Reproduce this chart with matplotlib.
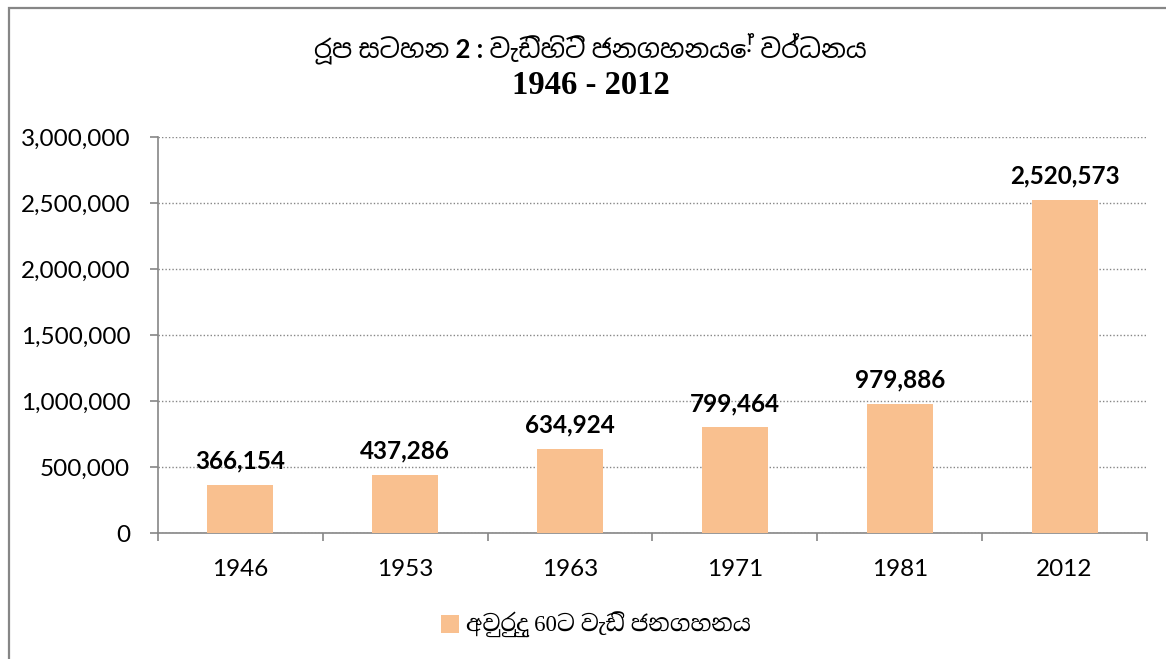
import matplotlib.pyplot as plt
from matplotlib.patches import Rectangle
from matplotlib.ticker import FuncFormatter, FixedLocator

years = ["1946", "1953", "1963", "1971", "1981", "2012"]
population = [366154, 437286, 634924, 799464, 979886, 2520573]

title_line1 = "රූප සටහන 2 : වැඩිහිටි ජනගහනයේ වර්ධනය"
title_line2 = "1946 - 2012"
legend_label = "අවුරුදු 60ට වැඩි ජනගහනය"

bar_color = "#F9C08F"
axis_gray = "#868686"

sans = ["Lato", "Noto Sans Sinhala", "DejaVu Sans"]
serif = ["Liberation Serif", "Noto Serif Sinhala", "DejaVu Serif"]
plt.rcParams["font.family"] = sans

W, H = 1166, 659
fig = plt.figure(figsize=(W / 100, H / 100), dpi=100)
ax = fig.add_axes([158 / W, 126 / H, (1147 - 158) / W, (533 - 137) / H])

x = list(range(len(years)))
bars = ax.bar(x, population, width=0.4, color=bar_color, zorder=3)

for xi, val in zip(x, population):
    ax.annotate(f"{val:,}", (xi, val), xytext=(0, 9), textcoords="offset points",
                ha="center", va="bottom", fontsize=17.5, fontweight="bold",
                color="black", zorder=4)

ax.set_xlim(-0.5, len(years) - 0.5)
ax.set_ylim(0, 3000000)
ax.set_yticks(range(0, 3000001, 500000))
ax.yaxis.set_major_formatter(FuncFormatter(lambda v, p: f"{int(v):,}"))
ax.set_xticks(x)
ax.set_xticklabels(years)
ax.xaxis.set_minor_locator(FixedLocator([i - 0.5 for i in range(len(years) + 1)]))

ax.tick_params(axis="x", which="major", length=0, pad=19, labelsize=17.5)
ax.tick_params(axis="x", which="minor", length=6, width=1.2, color=axis_gray, direction="out")
ax.tick_params(axis="y", length=6, width=1.2, color=axis_gray, direction="out",
               pad=14, labelsize=17.5)

ax.grid(axis="y", color=axis_gray, linestyle=(0, (1, 1.5)), linewidth=1, zorder=0)
for side in ["top", "right"]:
    ax.spines[side].set_visible(False)
for side in ["left", "bottom"]:
    ax.spines[side].set_color(axis_gray)
    ax.spines[side].set_linewidth(1.2)

# chart border
fig.add_artist(Rectangle((8.5 / W, -0.1), 1.2, 1.1 - 7.5 / H, transform=fig.transFigure,
                         fill=False, edgecolor=axis_gray, linewidth=1.6, clip_on=False))

fig.text(590 / W, 1 - 48 / H, title_line1, ha="center", va="center", fontsize=18.5,
         fontweight="bold", family=sans)
fig.text(591 / W, 1 - 86 / H, title_line2, ha="center", va="center", fontsize=23.5,
         fontweight="bold", family=serif)

leg = fig.legend([bars], [legend_label], loc="center", bbox_to_anchor=(596 / W, 34 / H),
                 frameon=False, handlelength=0.8, handleheight=0.8, handletextpad=0.3,
                 prop={"family": serif, "size": 16.5})

fig.savefig("out.png", dpi=100)
